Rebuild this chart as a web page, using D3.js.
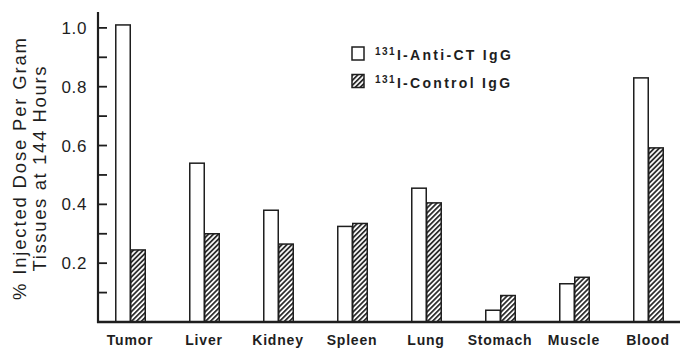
<!DOCTYPE html>
<html>
<head>
<meta charset="utf-8">
<script src="https://cdn.jsdelivr.net/npm/d3@7"></script>
<style>
  html, body { margin: 0; padding: 0; background: #fff; }
  svg { display: block; font-family: "Liberation Sans", Arial, Helvetica, sans-serif; }
</style>
</head>
<body>
<svg id="chart" width="680" height="348"></svg>
<script>
// Tissue distribution at 144 hours, % injected dose per gram
const categories = ["Tumor", "Liver", "Kidney", "Spleen", "Lung", "Stomach", "Muscle", "Blood"];
const antiCT  = [1.01, 0.54, 0.38, 0.325, 0.455, 0.04, 0.13, 0.83];
const control = [0.245, 0.30, 0.265, 0.335, 0.405, 0.09, 0.152, 0.592];
const seriesKeys = ["antiCT", "control"];
const seriesLabels = ["I-Anti-CT IgG", "I-Control IgG"];
const isotope = "131";
const majorTicks = [0.2, 0.4, 0.6, 0.8, 1.0];
const minorTicks = [0.1, 0.2, 0.3, 0.4, 0.5, 0.6, 0.7, 0.8, 0.9, 1.0];
const yTitle = ["% Injected Dose Per Gram", "Tissues at 144 Hours"];

const svg = d3.select("#chart");
const ink = "#1e1e1e";
const axisX = 98, baseY = 322, topY = 12, rightX = 680;

const y = d3.scaleLinear().domain([0, 1.054]).range([baseY, topY]);
const x = d3.scaleBand().domain(categories).range([axisX, rightX])
  .paddingInner(0.595).paddingOuter(0.23);
const xs = d3.scaleBand().domain(seriesKeys).range([0, x.bandwidth()]);

// diagonal hatch for the control series
const defs = svg.append("defs");
const pat = defs.append("pattern")
  .attr("id", "hatch").attr("patternUnits", "userSpaceOnUse")
  .attr("width", 3.5).attr("height", 3.5)
  .attr("patternTransform", "rotate(45)");
pat.append("rect").attr("width", 3.5).attr("height", 3.5).attr("fill", "#fff");
pat.append("rect").attr("x", 0).attr("width", 1.8).attr("height", 3.5).attr("fill", "#2e2e2e");

const rows = categories.map((c, i) => ({ cat: c, antiCT: antiCT[i], control: control[i] }));
const fills = { antiCT: "#fff", control: "url(#hatch)" };

const groups = svg.append("g").selectAll("g").data(rows).join("g")
  .attr("transform", d => `translate(${x(d.cat)},0)`);
groups.selectAll("rect")
  .data(d => seriesKeys.map(k => ({ key: k, value: d[k] })))
  .join("rect")
  .attr("x", d => xs(d.key) + 0.75)
  .attr("width", xs.bandwidth() - 0.5)
  .attr("y", d => y(d.value))
  .attr("height", d => y(0) - y(d.value))
  .attr("fill", d => fills[d.key])
  .attr("stroke", ink).attr("stroke-width", 1.5);

// y axis with inward ticks
const yAxis = svg.append("g");
yAxis.append("line").attr("x1", axisX).attr("x2", axisX)
  .attr("y1", topY).attr("y2", baseY + 1)
  .attr("stroke", ink).attr("stroke-width", 2.2);
yAxis.selectAll("line.tick").data(minorTicks).join("line").attr("class", "tick")
  .attr("x1", axisX).attr("x2", axisX + 9)
  .attr("y1", d => y(d)).attr("y2", d => y(d))
  .attr("stroke", ink).attr("stroke-width", 1.8);
yAxis.selectAll("text").data(majorTicks).join("text")
  .attr("x", 87).attr("y", d => y(d) + 6)
  .attr("text-anchor", "end")
  .attr("font-size", 17).attr("letter-spacing", 0.6)
  .attr("fill", ink)
  .text(d3.format(".1f"));

// x baseline
svg.append("line").attr("x1", axisX - 1).attr("x2", rightX)
  .attr("y1", baseY).attr("y2", baseY)
  .attr("stroke", ink).attr("stroke-width", 2.4);

// category labels
svg.append("g").selectAll("text").data(categories).join("text")
  .attr("x", d => x(d) + x.bandwidth() / 2)
  .attr("y", 345)
  .attr("text-anchor", "middle")
  .attr("font-size", 14).attr("font-weight", "bold").attr("letter-spacing", 0.8)
  .attr("fill", ink)
  .text(d => d);

// y title, two rotated lines
const titleLen = [262, 205];
svg.append("g").selectAll("text").data(yTitle).join("text")
  .attr("transform", (d, i) => `translate(${26 + i * 19.5},169) rotate(-90)`)
  .attr("text-anchor", "middle")
  .attr("font-size", 18.5)
  .attr("textLength", (d, i) => titleLen[i])
  .attr("lengthAdjust", "spacing")
  .attr("fill", ink)
  .text(d => d);

// legend
const legend = svg.append("g").attr("transform", "translate(352,47)");
const li = legend.selectAll("g").data(seriesKeys).join("g")
  .attr("transform", (d, i) => `translate(0,${i * 27.5})`);
li.append("rect").attr("width", 12).attr("height", 13)
  .attr("fill", d => fills[d]).attr("stroke", ink).attr("stroke-width", 1.5);
const lt = li.append("text").attr("x", 23).attr("y", 13)
  .attr("font-weight", "bold").attr("fill", ink);
lt.append("tspan").attr("font-size", 10).attr("dy", -5).attr("letter-spacing", 1.4).text(isotope);
lt.append("tspan").attr("font-size", 14).attr("dy", 5).attr("dx", 1).attr("letter-spacing", 2.3)
  .text((d, i) => seriesLabels[i]);
</script>
</body>
</html>
